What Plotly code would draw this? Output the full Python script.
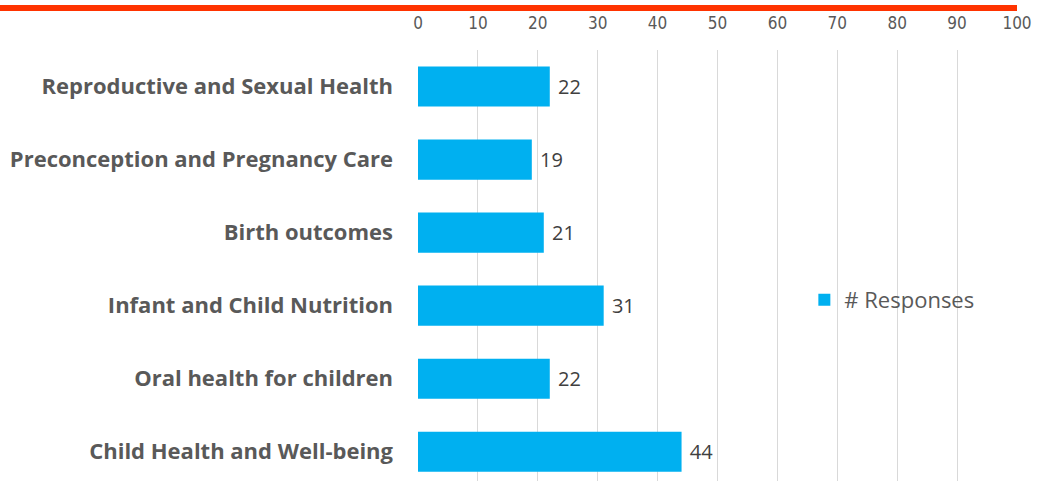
import plotly.graph_objects as go

categories = ["Reproductive and Sexual Health", "Preconception and Pregnancy Care",
              "Birth outcomes", "Infant and Child Nutrition",
              "Oral health for children", "Child Health and Well-being"]
responses = [22, 19, 21, 31, 22, 44]
series_name = "# Responses"
x_ticks = list(range(0, 101, 10))

fig = go.Figure()
fig.add_trace(go.Bar(
    y=categories, x=responses, orientation="h", name=series_name,
    marker=dict(color="#00B0F0", line=dict(width=0)),
    text=responses, texttemplate=" %{x}", textposition="outside",
    textfont=dict(family="Open Sans", size=20, color="#404040"),
    cliponaxis=False, width=0.55, showlegend=True,
))

fig.update_layout(
    width=1043, height=481,
    margin=dict(l=418, r=26, t=50, b=0),
    paper_bgcolor="white", plot_bgcolor="white",
    showlegend=True,
    legend=dict(x=0.645, y=0.42, xanchor="left", yanchor="middle",
                font=dict(family="Open Sans", size=22, color="#595959"),
                bgcolor="rgba(0,0,0,0)"),
    xaxis=dict(range=[0, 100], tickvals=x_ticks, side="top",
               showgrid=True, gridcolor="#D9D9D9", gridwidth=1,
               zeroline=False, showline=False, ticks="",
               ticklabelstandoff=17,
               tickfont=dict(family="DejaVu Sans Condensed", size=17, color="#595959")),
    yaxis=dict(type="category", categoryorder="array", categoryarray=categories,
               range=[5.4, -0.5], showgrid=False, zeroline=False, showline=False,
               ticks="", ticklabelstandoff=24,
               tickfont=dict(family="Open Sans", size=22, color="#595959", weight="bold")),
    shapes=[dict(type="line", xref="paper", yref="paper",
                 x0=-418/599, x1=1.0, y0=1 + 42/431, y1=1 + 42/431,
                 line=dict(color="#FF3300", width=6))],
)

fig.write_html("out.html", config={"displayModeBar": False},
               post_script="document.body.style.margin='0';")
